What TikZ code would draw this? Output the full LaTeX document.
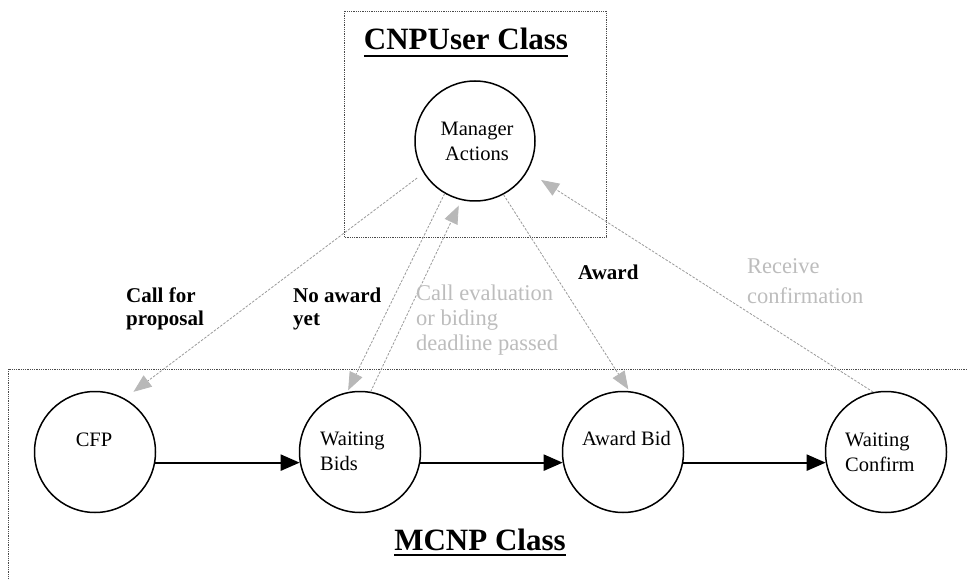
\documentclass[tikz,border=0pt]{standalone}
\usepackage{fontspec}
\setmainfont{Liberation Serif}
\usetikzlibrary{arrows.meta}
\definecolor{linkgray}{HTML}{9A9A9A}
\definecolor{tipgray}{HTML}{B8B8B8}
\definecolor{softtext}{HTML}{BDBDBD}
\definecolor{framegray}{HTML}{4A4A4A}

\begin{document}
\begin{tikzpicture}[x=1pt,y=-1pt,
  state/.style={circle,draw,line width=1.5pt,minimum size=121pt,inner sep=0pt},
  mgrstate/.style={state,minimum size=120pt},
  frame/.style={draw=framegray,line width=0.9pt,dash pattern=on 0.9pt off 0.9pt},
  classtitle/.style={font=\fontsize{31}{36}\selectfont\bfseries,inner sep=0pt,anchor=base},
  statetext/.style={font=\fontsize{20.5}{25}\selectfont,inner sep=0pt},
  msglabel/.style={font=\fontsize{21}{23.5}\selectfont\bfseries,align=left,anchor=west,inner sep=0pt},
  softlabel/.style={font=\fontsize{22.5}{25}\selectfont,text=softtext,align=left,anchor=west,inner sep=0pt},
  flow/.style={line width=2.2pt,-{Triangle[length=19pt,width=16pt]}},
  msg/.style={draw=linkgray,line width=0.8pt,dash pattern=on 2.5pt off 1.5pt,
    -{Triangle[length=18pt,width=14pt,color=tipgray]}},
]
\useasboundingbox (0,0) rectangle (967,580);
\fill[white] (0,0) rectangle (967,580);
\clip (0,0) rectangle (967,580);

% class frames
\draw[frame] (344,11) rectangle (606,237);
\draw[frame] (8,369) rectangle (990,600);

% class titles
\node[classtitle] (usertitle) at (466,50) {CNPUser Class};
\draw[line width=2pt] ([yshift=-6pt]usertitle.base west) -- ([yshift=-6pt]usertitle.base east);
\node[classtitle] (mcnptitle) at (480,550) {MCNP Class};
\draw[line width=2pt] ([yshift=-5pt]mcnptitle.base west) -- ([yshift=-5pt]mcnptitle.base east);

% states
\node[mgrstate] (mgr) at (475,141) {};
\node[statetext,align=center] (mgrtext) at (477,141) {Manager\\Actions};
\node[state] (cfp) at (95,452) {};
\node[statetext] (cfptext) at (94,440) {CFP};
\node[state] (bids) at (360,452) {};
\node[statetext,align=left,anchor=west] (bidstext) at (320,451) {Waiting\\Bids};
\node[state] (award) at (623,452) {};
\node[statetext,anchor=west] (awardtext) at (582,438) {Award Bid};
\node[state] (confirm) at (886,452) {};
\node[statetext,align=left,anchor=west] (confirmtext) at (845,452) {Waiting\\Confirm};

% protocol flow
\draw[flow] (cfp.-10) -- (bids.190);
\draw[flow] (bids.-10) -- (award.190);
\draw[flow] (award.-10) -- (confirm.190);

% messages between the classes
\draw[msg,shorten <=8pt,shorten >=11pt] (mgr.212) -- (cfp.61);
\draw[msg,shorten >=2pt] (mgr.240) -- (bids.102);
\draw[msg,shorten >=6pt] (bids.80) -- (mgr.257);
\draw[msg,shorten >=2pt] (mgr.-62) -- (award.84);
\draw[msg,shorten >=16pt] (confirm.102) -- (mgr.-30);

% message labels
\node[msglabel] (lcfp) at (126,309) {Call for\\proposal};
\node[msglabel] (lnoaward) at (293,309) {No award\\yet};
\node[softlabel] (leval) at (416,320) {Call evaluation\\or biding\\deadline passed};
\node[msglabel] (laward) at (578,272) {Award};
\node[softlabel,font=\fontsize{22.5}{30}\selectfont] (lconfirm) at (747,281) {Receive\\confirmation};
\end{tikzpicture}
\end{document}
